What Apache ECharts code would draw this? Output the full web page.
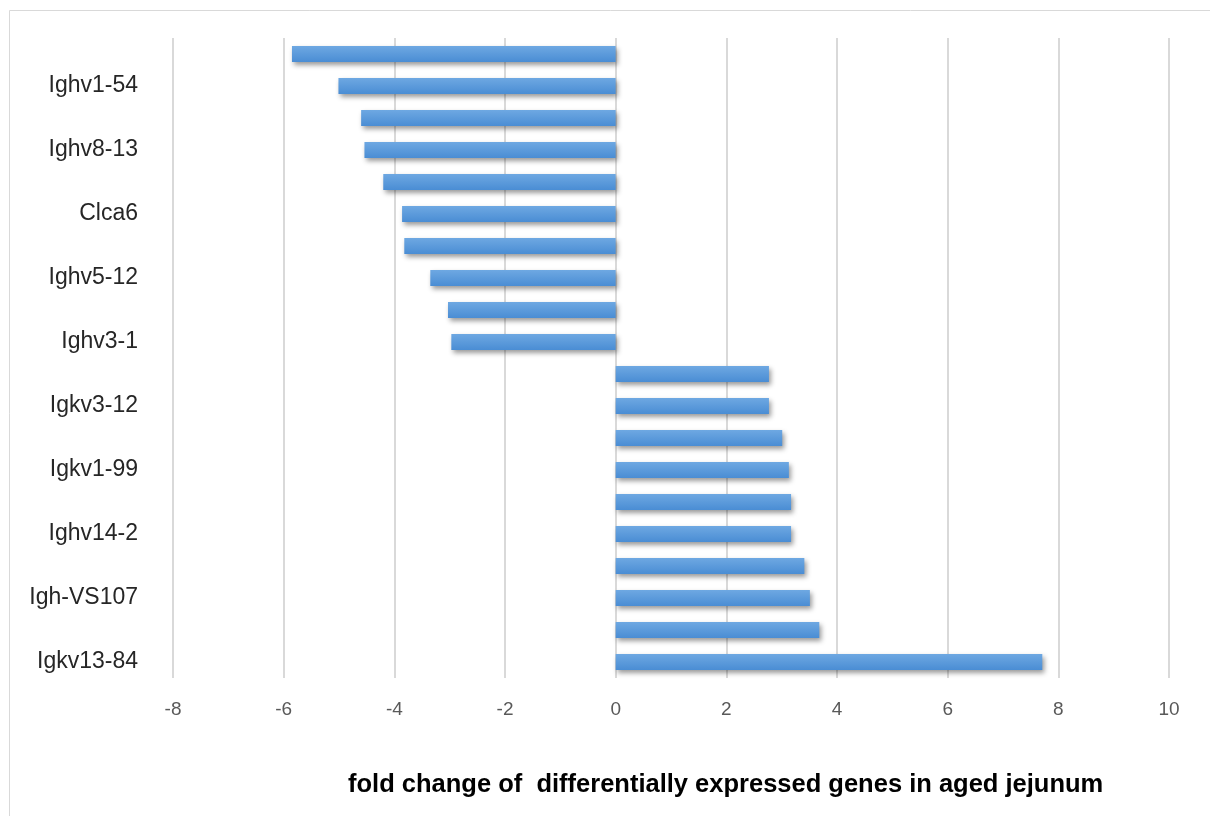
<!DOCTYPE html>
<html>
<head>
<meta charset="utf-8">
<script src="https://cdn.jsdelivr.net/npm/echarts@6/dist/echarts.min.js"></script>
<style>
html,body{margin:0;padding:0;background:#fff;}
#chart{width:1210px;height:816px;}
</style>
</head>
<body>
<div id="chart"></div>
<script>
// categories listed top to bottom (unlabelled rows have unknown names)
const genes = ['', 'Ighv1-54', '', 'Ighv8-13', '', 'Clca6', '', 'Ighv5-12', '', 'Ighv3-1',
               '', 'Igkv3-12', '', 'Igkv1-99', '', 'Ighv14-2', '', 'Igh-VS107', '', 'Igkv13-84'];
const foldChange = [-5.85, -5.01, -4.60, -4.54, -4.20, -3.86, -3.82, -3.35, -3.03, -2.97,
                    2.77, 2.77, 3.01, 3.13, 3.17, 3.17, 3.41, 3.51, 3.68, 7.71];
const xTicks = {min: -8, max: 10, interval: 2};
const axisTitle = 'fold change of  differentially expressed genes in aged jejunum';

const chart = echarts.init(document.getElementById('chart'));
chart.setOption({
  animation: false,
  backgroundColor: '#ffffff',
  grid: {left: 173, top: 38, width: 996, height: 640, containLabel: false},
  xAxis: {
    type: 'value',
    min: xTicks.min, max: xTicks.max, interval: xTicks.interval,
    axisLine: {show: false},
    axisTick: {show: false},
    axisLabel: {color: '#595959', fontSize: 19, fontFamily: 'Liberation Sans', margin: 22},
    splitLine: {show: true, lineStyle: {color: '#d9d9d9', width: 2}}
  },
  yAxis: {
    type: 'category',
    inverse: true,
    data: genes,
    axisLine: {show: false},
    axisTick: {show: false},
    axisLabel: {interval: 0, color: '#262626', fontSize: 23, fontFamily: 'Liberation Sans', margin: 35}
  },
  series: [{
    type: 'bar',
    data: foldChange,
    barWidth: 16,
    itemStyle: {
      color: new echarts.graphic.LinearGradient(0, 0, 0, 1, [
        {offset: 0, color: '#6ea8e2'},
        {offset: 1, color: '#4a8dd4'}
      ]),
      shadowColor: 'rgba(0,0,0,0.4)',
      shadowBlur: 5,
      shadowOffsetX: 2,
      shadowOffsetY: 3
    }
  }],
  graphic: [
    {type: 'rect', left: 7, top: 8, shape: {width: 1210, height: 820},
     style: {fill: 'none', stroke: '#d9d9d9', lineWidth: 1}, silent: true},
    {type: 'text', left: 348, top: 772,
     style: {text: axisTitle, fill: '#000', font: 'bold 25.5px "Liberation Sans"'}}
  ]
});
</script>
</body>
</html>
